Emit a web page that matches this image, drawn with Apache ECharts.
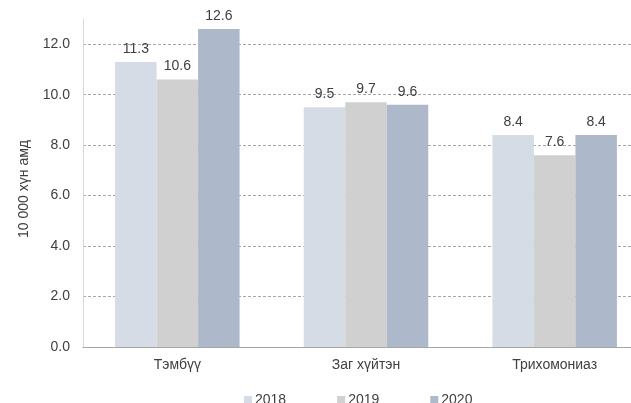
<!DOCTYPE html>
<html>
<head>
<meta charset="utf-8">
<script src="https://cdn.jsdelivr.net/npm/echarts@6/dist/echarts.min.js"></script>
<style>
  html, body { margin: 0; padding: 0; background: #fff; }
  #chart { width: 631px; height: 403px; }
</style>
</head>
<body>
<div id="chart"></div>
<script>
// 数据
var categories = ['Тэмбүү', 'Заг хүйтэн', 'Трихомониаз']
var years = ['2018', '2019', '2020']
var values2018 = [11.3, 9.5, 8.4]
var values2019 = [10.6, 9.7, 7.6]
var values2020 = [12.6, 9.6, 8.4]
var colors = ['#d6dce5', '#d0d0d0', '#adb9ca']

var textColor = '#404040'
var font = 'Liberation Sans, Arial, sans-serif'

function barSeries (name, data, color) {
  return {
    name: name,
    type: 'bar',
    data: data,
    barGap: '0%',
    barCategoryGap: '34%',
    itemStyle: { color: color },
    label: {
      show: true,
      position: 'top',
      distance: 6,
      color: textColor,
      fontFamily: font,
      fontSize: 14,
      formatter: function (p) { return p.value.toFixed(1) }
    }
  }
}

var chart = echarts.init(document.getElementById('chart'))
chart.setOption({
  animation: false,
  color: colors,
  // 图形位置，右侧超出画布（原图被裁切）
  grid: { left: 83, top: 19, width: 566, height: 328, containLabel: false, outerBoundsMode: 'none' },
  legend: {
    data: years,
    left: 239,
    top: 388,
    itemWidth: 8,
    itemHeight: 8,
    itemGap: 51,
    icon: 'rect',
    textStyle: { color: textColor, fontFamily: font, fontSize: 14, padding: [0, 0, 0, -2] }
  },
  xAxis: {
    type: 'category',
    data: categories,
    axisLine: { lineStyle: { color: '#a6a6a6', width: 1 } },
    axisTick: { show: false },
    axisLabel: { color: textColor, fontFamily: font, fontSize: 14, margin: 11 }
  },
  yAxis: {
    type: 'value',
    min: 0,
    max: 13,
    interval: 2,
    name: '10 000 хүн амд',
    nameLocation: 'middle',
    nameGap: 52,
    nameTextStyle: { color: textColor, fontFamily: font, fontSize: 14, padding: [0, 0, 0, -12] },
    axisLine: { show: true, lineStyle: { color: '#d9d9d9' } },
    axisTick: { show: false },
    axisLabel: {
      color: textColor,
      fontFamily: font,
      fontSize: 14,
      margin: 13,
      showMaxLabel: false,
      formatter: function (v) { return v % 2 === 0 ? v.toFixed(1) : '' }
    },
    splitLine: {
      show: true,
      showMaxLine: false,
      lineStyle: { color: '#a6a6a6', type: [3, 2], width: 1 }
    }
  },
  series: [
    barSeries(years[0], values2018, colors[0]),
    barSeries(years[1], values2019, colors[1]),
    barSeries(years[2], values2020, colors[2])
  ]
})
</script>
</body>
</html>
